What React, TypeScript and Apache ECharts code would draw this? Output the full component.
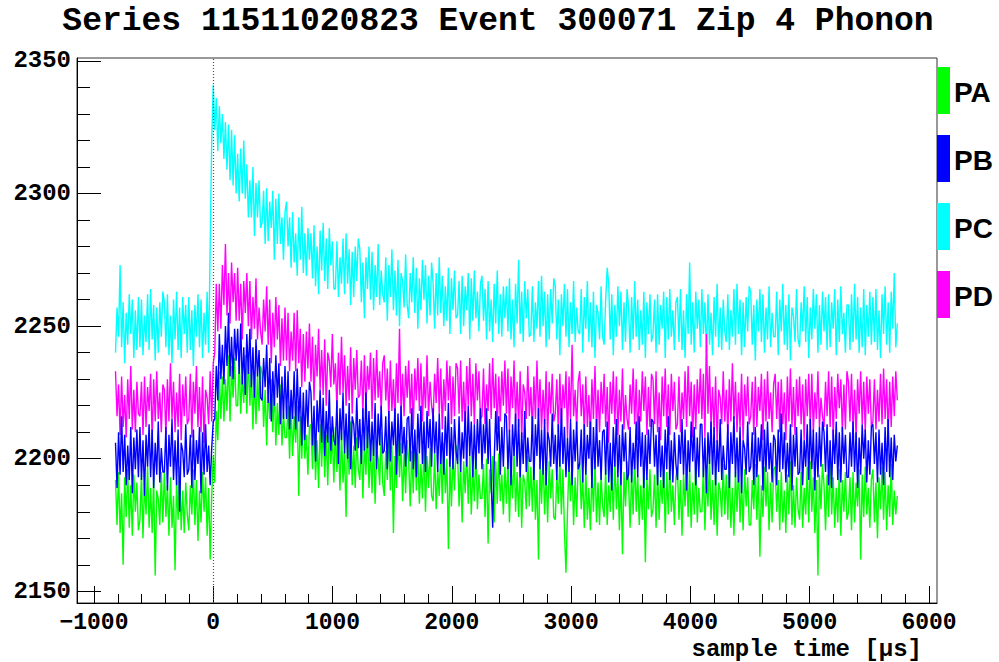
import React, { useEffect, useRef } from "react";
import * as echarts from "echarts";

const TITLE = "Series 11511020823 Event 300071 Zip 4 Phonon";
const X_TITLE = "sample time [\u03bcs]";
const CHANNELS = ["PA", "PB", "PC", "PD"];
const COLORS: Record<string, string> = { PA: "#00ff00", PB: "#0000ff", PC: "#00ffff", PD: "#ff00ff" };

// sample timing of the stored trace points (µs)
const T0 = -819.2;
const DT = 12.8;

const X_MAJOR = [-1000, 0, 1000, 2000, 3000, 4000, 5000, 6000];
const Y_MAJOR = [2150, 2200, 2250, 2300, 2350];
const X_RANGE = [-1142, 6067];
const Y_RANGE = [2145.6, 2351.1];

const PA = [
  2192, 2175, 2195, 2172, 2187, 2160, 2193, 2178, 2196, 2174, 2190, 2171, 2194, 2180, 2191, 2173,
  2177, 2194, 2170, 2191, 2179, 2197, 2174, 2189, 2172, 2193, 2156, 2188, 2185, 2175, 2195, 2176,
  2195, 2178, 2190, 2171, 2193, 2174, 2186, 2158, 2192, 2177, 2197, 2173, 2188, 2172, 2191, 2179,
  2173, 2190, 2179, 2196, 2175, 2192, 2169, 2188, 2176, 2195, 2180, 2193, 2171, 2189, 2162, 2186,
  2201, 2191, 2218, 2207, 2233, 2215, 2231, 2214, 2230, 2218, 2239, 2214, 2235, 2223, 2238, 2220,
  2220, 2238, 2217, 2231, 2221, 2239, 2217, 2240, 2220, 2233, 2211, 2231, 2213, 2232, 2218, 2235,
  2232, 2212, 2226, 2205, 2227, 2215, 2230, 2210, 2227, 2205, 2221, 2209, 2228, 2205, 2217, 2208,
  2208, 2220, 2200, 2221, 2201, 2216, 2206, 2220, 2186, 2216, 2200, 2218, 2200, 2209, 2194, 2212,
  2213, 2196, 2216, 2192, 2207, 2189, 2213, 2197, 2215, 2193, 2209, 2190, 2212, 2198, 2209, 2191,
  2212, 2195, 2207, 2188, 2210, 2191, 2203, 2178, 2209, 2194, 2214, 2190, 2205, 2189, 2208, 2196,
  2192, 2209, 2185, 2206, 2194, 2212, 2189, 2204, 2187, 2208, 2183, 2203, 2200, 2190, 2210, 2191,
  2186, 2203, 2192, 2209, 2188, 2205, 2172, 2201, 2189, 2208, 2193, 2206, 2184, 2202, 2187, 2207,
  2199, 2182, 2203, 2187, 2209, 2188, 2202, 2183, 2198, 2185, 2205, 2180, 2201, 2189, 2204, 2186,
  2184, 2202, 2181, 2196, 2186, 2204, 2183, 2206, 2187, 2200, 2166, 2199, 2182, 2201, 2188, 2205,
  2202, 2182, 2197, 2176, 2199, 2187, 2203, 2183, 2201, 2179, 2196, 2184, 2204, 2181, 2194, 2185,
  2185, 2198, 2178, 2200, 2168, 2196, 2187, 2201, 2176, 2199, 2183, 2202, 2184, 2194, 2179, 2197,
  2183, 2200, 2176, 2197, 2185, 2203, 2180, 2195, 2178, 2199, 2174, 2194, 2191, 2181, 2201, 2182,
  2197, 2180, 2200, 2177, 2192, 2162, 2198, 2183, 2201, 2179, 2195, 2176, 2199, 2185, 2196, 2178,
  2177, 2194, 2183, 2200, 2179, 2196, 2173, 2157, 2180, 2199, 2184, 2197, 2175, 2193, 2178, 2198,
  2198, 2181, 2193, 2174, 2196, 2177, 2189, 2173, 2195, 2180, 2200, 2176, 2191, 2175, 2194, 2182,
  2178, 2196, 2175, 2190, 2180, 2198, 2177, 2200, 2181, 2194, 2173, 2193, 2164, 2195, 2182, 2199,
  2191, 2174, 2195, 2179, 2201, 2180, 2194, 2175, 2190, 2177, 2197, 2161, 2193, 2181, 2196, 2178,
  2181, 2194, 2174, 2196, 2177, 2192, 2183, 2197, 2172, 2195, 2179, 2198, 2180, 2190, 2175, 2193,
  2197, 2177, 2192, 2171, 2194, 2182, 2198, 2178, 2196, 2174, 2191, 2179, 2199, 2176, 2189, 2180,
  2180, 2197, 2173, 2194, 2182, 2200, 2177, 2192, 2175, 2196, 2171, 2191, 2188, 2178, 2198, 2179,
  2194, 2177, 2197, 2174, 2189, 2171, 2195, 2180, 2198, 2176, 2192, 2173, 2196, 2182, 2193, 2175,
  2175, 2192, 2181, 2198, 2177, 2194, 2163, 2190, 2178, 2197, 2182, 2195, 2173, 2191, 2176, 2196,
  2197, 2180, 2192, 2173, 2195, 2176, 2188, 2172, 2194, 2179, 2199, 2175, 2190, 2174, 2193, 2181,
  2177, 2195, 2174, 2189, 2179, 2197, 2176, 2199, 2180, 2193, 2172, 2192, 2156, 2194, 2181, 2198,
  2190, 2173, 2194, 2178, 2200, 2179, 2193, 2174, 2189, 2176, 2196, 2171, 2192, 2180, 2195, 2177,
  2180, 2193, 2173, 2195, 2176, 2191, 2182, 2196, 2162, 2194, 2178, 2197, 2179, 2189, 2174, 2192,
  2196, 2176, 2191, 2170, 2193, 2181, 2197, 2177, 2195, 2173, 2190, 2178, 2198, 2175, 2188, 2179,
  2186,
];

const PB = [
  2206, 2189, 2210, 2194, 2216, 2195, 2209, 2190, 2205, 2192, 2212, 2187, 2208, 2196, 2211, 2193,
  2212, 2192, 2207, 2186, 2209, 2197, 2213, 2193, 2211, 2189, 2206, 2194, 2214, 2191, 2204, 2195,
  2195, 2212, 2188, 2209, 2197, 2215, 2192, 2207, 2190, 2211, 2180, 2206, 2203, 2193, 2213, 2194,
  2196, 2209, 2189, 2211, 2192, 2207, 2198, 2212, 2187, 2210, 2194, 2213, 2195, 2205, 2190, 2204,
  2214, 2215, 2235, 2222, 2247, 2230, 2243, 2228, 2250, 2235, 2255, 2231, 2246, 2230, 2249, 2237,
  2249, 2232, 2251, 2228, 2242, 2224, 2247, 2232, 2249, 2227, 2242, 2223, 2245, 2231, 2241, 2223,
  2222, 2238, 2227, 2243, 2221, 2238, 2214, 2233, 2220, 2239, 2223, 2236, 2213, 2231, 2215, 2235,
  2215, 2233, 2211, 2226, 2215, 2233, 2211, 2234, 2214, 2227, 2205, 2225, 2207, 2226, 2212, 2229,
  2225, 2205, 2220, 2199, 2222, 2210, 2226, 2206, 2223, 2201, 2218, 2206, 2226, 2203, 2216, 2207,
  2205, 2222, 2198, 2219, 2207, 2225, 2202, 2217, 2200, 2221, 2196, 2216, 2213, 2203, 2223, 2204,
  2215, 2198, 2219, 2203, 2225, 2204, 2218, 2199, 2214, 2201, 2221, 2196, 2217, 2205, 2220, 2202,
  2203, 2216, 2196, 2218, 2199, 2214, 2205, 2219, 2194, 2217, 2201, 2220, 2202, 2212, 2197, 2215,
  2216, 2199, 2219, 2196, 2211, 2193, 2217, 2202, 2220, 2198, 2214, 2195, 2218, 2204, 2215, 2197,
  2219, 2202, 2214, 2195, 2217, 2198, 2210, 2194, 2216, 2201, 2221, 2197, 2212, 2196, 2215, 2203,
  2198, 2216, 2195, 2210, 2200, 2218, 2197, 2220, 2201, 2214, 2193, 2213, 2196, 2215, 2202, 2219,
  2196, 2213, 2202, 2219, 2198, 2215, 2192, 2174, 2199, 2218, 2203, 2216, 2194, 2212, 2197, 2217,
  2216, 2196, 2211, 2190, 2213, 2201, 2217, 2197, 2215, 2193, 2210, 2198, 2218, 2195, 2208, 2199,
  2199, 2216, 2192, 2213, 2201, 2219, 2196, 2211, 2194, 2215, 2190, 2210, 2207, 2197, 2217, 2198,
  2209, 2192, 2213, 2197, 2219, 2198, 2212, 2193, 2208, 2195, 2215, 2190, 2211, 2199, 2214, 2196,
  2198, 2211, 2191, 2213, 2194, 2209, 2200, 2214, 2189, 2212, 2196, 2215, 2197, 2207, 2192, 2210,
  2211, 2194, 2214, 2191, 2206, 2188, 2212, 2197, 2215, 2193, 2209, 2190, 2213, 2199, 2210, 2192,
  2194, 2212, 2191, 2206, 2196, 2214, 2193, 2216, 2197, 2210, 2189, 2209, 2192, 2211, 2198, 2215,
  2214, 2197, 2209, 2190, 2212, 2193, 2205, 2189, 2211, 2196, 2216, 2192, 2207, 2191, 2210, 2198,
  2192, 2209, 2198, 2215, 2194, 2211, 2188, 2207, 2195, 2214, 2199, 2212, 2190, 2208, 2193, 2213,
  2213, 2193, 2208, 2187, 2210, 2198, 2214, 2194, 2212, 2190, 2207, 2195, 2215, 2192, 2205, 2196,
  2196, 2213, 2189, 2210, 2198, 2216, 2193, 2208, 2191, 2212, 2187, 2207, 2204, 2194, 2214, 2195,
  2197, 2210, 2190, 2212, 2193, 2208, 2199, 2213, 2188, 2211, 2195, 2214, 2196, 2206, 2191, 2209,
  2207, 2190, 2211, 2195, 2217, 2196, 2210, 2191, 2206, 2193, 2213, 2188, 2209, 2197, 2212, 2194,
  2195, 2211, 2190, 2207, 2197, 2213, 2192, 2215, 2196, 2211, 2188, 2210, 2193, 2212, 2197, 2214,
  2210, 2195, 2213, 2190, 2207, 2189, 2211, 2198, 2214, 2192, 2210, 2191, 2212, 2198, 2209, 2193,
  2193, 2210, 2197, 2214, 2195, 2210, 2189, 2208, 2194, 2213, 2200, 2211, 2191, 2207, 2194, 2212,
  2213, 2198, 2210, 2191, 2211, 2194, 2206, 2190, 2212, 2195, 2215, 2193, 2208, 2192, 2209, 2199,
  2205,
];

const PC = [
  2240, 2257, 2246, 2273, 2242, 2259, 2236, 2255, 2243, 2262, 2247, 2260, 2238, 2256, 2241, 2261,
  2242, 2260, 2239, 2254, 2244, 2262, 2241, 2264, 2245, 2258, 2237, 2257, 2240, 2259, 2246, 2263,
  2259, 2242, 2262, 2239, 2254, 2236, 2260, 2245, 2263, 2241, 2257, 2238, 2261, 2247, 2258, 2240,
  2261, 2241, 2256, 2235, 2258, 2246, 2262, 2242, 2260, 2238, 2255, 2243, 2263, 2240, 2280, 2320,
  2341, 2324, 2336, 2316, 2333, 2319, 2330, 2313, 2327, 2309, 2326, 2305, 2324, 2303, 2322, 2300,
  2315, 2297, 2317, 2300, 2320, 2298, 2311, 2291, 2305, 2291, 2310, 2284, 2304, 2291, 2305, 2287,
  2289, 2301, 2281, 2302, 2282, 2297, 2287, 2301, 2275, 2298, 2281, 2300, 2281, 2291, 2275, 2293,
  2297, 2280, 2291, 2272, 2293, 2274, 2285, 2269, 2291, 2275, 2295, 2270, 2285, 2269, 2287, 2275,
  2285, 2268, 2288, 2265, 2280, 2262, 2286, 2271, 2289, 2267, 2283, 2264, 2287, 2273, 2282, 2264,
  2264, 2282, 2261, 2276, 2266, 2283, 2262, 2285, 2266, 2279, 2258, 2278, 2261, 2280, 2267, 2283,
  2279, 2259, 2274, 2253, 2276, 2264, 2280, 2260, 2278, 2256, 2273, 2261, 2281, 2258, 2271, 2262,
  2259, 2276, 2252, 2273, 2261, 2279, 2256, 2271, 2254, 2275, 2250, 2270, 2267, 2257, 2277, 2258,
  2253, 2270, 2259, 2276, 2255, 2272, 2249, 2268, 2256, 2275, 2260, 2273, 2251, 2269, 2254, 2274,
  2266, 2249, 2270, 2254, 2276, 2255, 2269, 2250, 2265, 2252, 2272, 2247, 2268, 2256, 2271, 2253,
  2254, 2267, 2247, 2269, 2250, 2265, 2256, 2270, 2245, 2268, 2252, 2271, 2253, 2263, 2248, 2266,
  2269, 2252, 2264, 2245, 2267, 2248, 2260, 2244, 2266, 2251, 2271, 2247, 2262, 2246, 2265, 2253,
  2265, 2248, 2268, 2245, 2260, 2242, 2266, 2251, 2275, 2247, 2263, 2244, 2267, 2253, 2264, 2246,
  2247, 2265, 2244, 2259, 2249, 2267, 2246, 2269, 2250, 2263, 2242, 2262, 2245, 2264, 2251, 2268,
  2265, 2245, 2260, 2239, 2262, 2250, 2266, 2246, 2264, 2242, 2259, 2247, 2267, 2244, 2257, 2248,
  2247, 2264, 2240, 2261, 2249, 2267, 2244, 2259, 2242, 2263, 2238, 2258, 2255, 2245, 2265, 2246,
  2243, 2260, 2272, 2266, 2245, 2262, 2239, 2258, 2246, 2265, 2250, 2263, 2241, 2259, 2244, 2264,
  2257, 2240, 2261, 2245, 2267, 2246, 2260, 2241, 2256, 2243, 2263, 2238, 2259, 2247, 2262, 2244,
  2247, 2260, 2240, 2262, 2243, 2258, 2249, 2263, 2238, 2261, 2245, 2264, 2246, 2256, 2241, 2259,
  2261, 2244, 2264, 2241, 2256, 2238, 2262, 2247, 2274, 2243, 2259, 2240, 2263, 2249, 2260, 2242,
  2264, 2247, 2259, 2240, 2262, 2243, 2255, 2239, 2261, 2246, 2266, 2242, 2257, 2241, 2260, 2248,
  2244, 2262, 2241, 2256, 2246, 2264, 2243, 2266, 2247, 2260, 2239, 2259, 2242, 2261, 2248, 2265,
  2263, 2243, 2258, 2237, 2260, 2248, 2264, 2244, 2262, 2240, 2257, 2245, 2265, 2242, 2255, 2246,
  2246, 2263, 2239, 2260, 2248, 2266, 2243, 2258, 2241, 2262, 2237, 2257, 2254, 2244, 2264, 2245,
  2242, 2259, 2248, 2265, 2244, 2261, 2238, 2257, 2245, 2264, 2249, 2262, 2240, 2258, 2243, 2263,
  2248, 2261, 2241, 2262, 2242, 2259, 2249, 2264, 2239, 2260, 2244, 2265, 2247, 2255, 2240, 2258,
  2258, 2241, 2262, 2244, 2266, 2245, 2261, 2240, 2257, 2242, 2264, 2239, 2258, 2246, 2263, 2243,
  2261, 2244, 2264, 2241, 2256, 2238, 2262, 2247, 2265, 2243, 2259, 2240, 2263, 2249, 2270, 2242,
  2251,
];

const PD = [
  2233, 2216, 2228, 2209, 2231, 2212, 2224, 2208, 2230, 2215, 2235, 2211, 2226, 2210, 2229, 2217,
  2216, 2229, 2209, 2231, 2212, 2227, 2218, 2232, 2207, 2230, 2214, 2233, 2215, 2225, 2210, 2228,
  2226, 2209, 2230, 2214, 2236, 2215, 2229, 2210, 2225, 2212, 2232, 2207, 2228, 2216, 2231, 2213,
  2215, 2232, 2208, 2229, 2217, 2235, 2212, 2227, 2210, 2231, 2206, 2226, 2223, 2213, 2233, 2214,
  2236, 2240, 2266, 2248, 2266, 2249, 2273, 2258, 2281, 2254, 2270, 2251, 2274, 2259, 2270, 2252,
  2272, 2252, 2266, 2245, 2267, 2255, 2270, 2250, 2267, 2245, 2261, 2249, 2268, 2245, 2257, 2248,
  2243, 2260, 2248, 2265, 2243, 2260, 2236, 2255, 2242, 2261, 2245, 2258, 2235, 2253, 2237, 2257,
  2237, 2255, 2233, 2248, 2237, 2255, 2233, 2256, 2236, 2249, 2227, 2247, 2229, 2248, 2234, 2251,
  2229, 2246, 2222, 2243, 2231, 2249, 2226, 2241, 2224, 2245, 2220, 2240, 2237, 2227, 2247, 2228,
  2236, 2219, 2240, 2224, 2246, 2225, 2239, 2220, 2235, 2222, 2242, 2217, 2238, 2226, 2241, 2223,
  2224, 2237, 2217, 2239, 2220, 2235, 2226, 2240, 2215, 2238, 2222, 2241, 2223, 2233, 2218, 2236,
  2239, 2222, 2234, 2215, 2237, 2218, 2230, 2214, 2236, 2221, 2249, 2217, 2232, 2216, 2235, 2223,
  2237, 2217, 2232, 2211, 2234, 2222, 2238, 2218, 2236, 2214, 2231, 2219, 2239, 2216, 2229, 2220,
  2215, 2232, 2221, 2238, 2217, 2234, 2211, 2230, 2218, 2237, 2222, 2235, 2213, 2231, 2216, 2236,
  2234, 2217, 2237, 2214, 2229, 2211, 2235, 2220, 2238, 2216, 2232, 2213, 2236, 2222, 2233, 2215,
  2216, 2234, 2213, 2228, 2218, 2236, 2215, 2238, 2219, 2232, 2211, 2231, 2214, 2233, 2220, 2237,
  2217, 2234, 2210, 2231, 2219, 2237, 2214, 2229, 2212, 2233, 2208, 2228, 2225, 2215, 2235, 2216,
  2227, 2210, 2231, 2215, 2237, 2216, 2230, 2211, 2226, 2213, 2233, 2208, 2229, 2217, 2232, 2214,
  2217, 2230, 2210, 2232, 2213, 2228, 2219, 2233, 2208, 2231, 2215, 2243, 2216, 2226, 2211, 2229,
  2233, 2216, 2228, 2209, 2231, 2212, 2224, 2208, 2230, 2215, 2235, 2211, 2226, 2210, 2229, 2217,
  2232, 2212, 2227, 2206, 2229, 2217, 2233, 2213, 2231, 2209, 2226, 2214, 2234, 2211, 2224, 2215,
  2211, 2228, 2217, 2234, 2213, 2230, 2207, 2226, 2214, 2233, 2218, 2231, 2209, 2227, 2212, 2232,
  2230, 2213, 2233, 2210, 2225, 2207, 2231, 2216, 2234, 2212, 2228, 2209, 2232, 2218, 2229, 2211,
  2213, 2231, 2210, 2225, 2215, 2233, 2212, 2235, 2216, 2229, 2208, 2228, 2211, 2230, 2217, 2234,
  2215, 2232, 2208, 2247, 2217, 2235, 2212, 2227, 2210, 2231, 2206, 2226, 2223, 2213, 2233, 2214,
  2226, 2209, 2230, 2214, 2236, 2215, 2229, 2210, 2225, 2212, 2232, 2207, 2228, 2216, 2231, 2213,
  2216, 2229, 2209, 2231, 2212, 2227, 2218, 2232, 2207, 2230, 2214, 2233, 2215, 2225, 2210, 2228,
  2232, 2215, 2229, 2210, 2230, 2213, 2225, 2207, 2231, 2214, 2234, 2212, 2227, 2209, 2230, 2216,
  2231, 2213, 2228, 2207, 2230, 2216, 2232, 2212, 2232, 2210, 2225, 2215, 2233, 2212, 2223, 2216,
  2212, 2229, 2216, 2233, 2212, 2231, 2208, 2227, 2215, 2232, 2219, 2230, 2210, 2228, 2211, 2233,
  2229, 2214, 2232, 2211, 2226, 2208, 2230, 2217, 2233, 2213, 2229, 2210, 2231, 2217, 2230, 2212,
  2214, 2230, 2211, 2226, 2214, 2232, 2213, 2234, 2215, 2230, 2209, 2229, 2212, 2231, 2216, 2233,
  2222,
];

const TRACES: Record<string, number[]> = { PA, PB, PC, PD };
// drawing order (last on top)
const DRAW_ORDER = ["PC", "PD", "PA", "PB"];

const MONO = "'Liberation Mono', 'DejaVu Sans Mono', monospace";
const SANS = "'Liberation Sans', Arial, sans-serif";

function range(a: number, b: number, step: number): number[] {
  const out: number[] = [];
  for (let v = a; v <= b + 1e-9; v += step) out.push(Math.round(v));
  return out;
}

export default function App() {
  const ref = useRef<HTMLDivElement>(null);
  useEffect(() => {
    if (!ref.current) return;
    const chart = echarts.init(ref.current, null, { renderer: "svg" });
    const gridLeft = 77, gridTop = 58, gridW = 860, gridH = 545;

    const series: any[] = DRAW_ORDER.map((name, k) => ({
      name,
      type: "line",
      xAxisIndex: 0,
      yAxisIndex: 0,
      data: TRACES[name].map((v, i) => [T0 + i * DT, v]),
      showSymbol: false,
      symbol: "none",
      lineStyle: { color: COLORS[name], width: 1.4 },
      itemStyle: { color: COLORS[name] },
      silent: true,
      z: 2 + k,
    }));
    series.push({
      type: "line",
      data: [],
      xAxisIndex: 0,
      yAxisIndex: 0,
      z: 10,
      markLine: {
        silent: true,
        symbol: "none",
        label: { show: false },
        lineStyle: { color: "#555", type: [1, 2], width: 1.2 },
        data: [{ xAxis: 0 }],
      },
    });

    const legendGraphics: any[] = [];
    const legendTops = [67, 135, 203, 271];
    CHANNELS.forEach((name, k) => {
      legendGraphics.push({
        type: "rect",
        shape: { x: 937, y: legendTops[k], width: 13, height: 47 },
        style: { fill: COLORS[name] },
      });
      legendGraphics.push({
        type: "text",
        x: 954,
        y: legendTops[k] + 25,
        style: {
          text: name,
          font: `bold 28px ${SANS}`,
          fill: "#000",
          textVerticalAlign: "middle",
          verticalAlign: "middle",
        },
      });
    });

    const tickStyle = { color: "#000", width: 1 };
    chart.setOption({
      animation: false,
      backgroundColor: "#fff",
      grid: {
        left: gridLeft,
        top: gridTop,
        width: gridW,
        height: gridH,
        show: true,
        borderColor: "#333",
        borderWidth: 1,
        backgroundColor: "transparent",
        containLabel: false,
        outerBoundsMode: "none",
      },
      xAxis: [
        {
          type: "value",
          min: X_RANGE[0],
          max: X_RANGE[1],
          position: "bottom",
          axisLine: { show: true, onZero: false, lineStyle: { color: "#000", width: 1 } },
          axisTick: { show: true, inside: true, length: 17, customValues: X_MAJOR, lineStyle: tickStyle },
          axisLabel: {
            show: true,
            customValues: X_MAJOR,
            margin: 8,
            fontFamily: MONO,
            fontWeight: "bold",
            fontSize: 23,
            color: "#000",
            formatter: (v: number) => String(v).replace("-", "\u2212"),
          },
          splitLine: { show: false },
        },
        {
          type: "value",
          min: X_RANGE[0],
          max: X_RANGE[1],
          position: "bottom",
          axisLine: { show: false, onZero: false },
          axisTick: {
            show: true,
            inside: true,
            length: 9,
            customValues: range(-1000, 6000, 200),
            lineStyle: tickStyle,
          },
          axisLabel: { show: false },
          splitLine: { show: false },
        },
      ],
      yAxis: [
        {
          type: "value",
          min: Y_RANGE[0],
          max: Y_RANGE[1],
          position: "left",
          axisLine: { show: true, onZero: false, lineStyle: { color: "#000", width: 1 } },
          axisTick: { show: true, inside: true, length: 24, customValues: Y_MAJOR, lineStyle: tickStyle },
          axisLabel: {
            show: true,
            customValues: Y_MAJOR,
            margin: 6,
            fontFamily: MONO,
            fontWeight: "bold",
            fontSize: 24,
            color: "#000",
            formatter: (v: number) => String(v),
          },
          splitLine: { show: false },
        },
        {
          type: "value",
          min: Y_RANGE[0],
          max: Y_RANGE[1],
          position: "left",
          offset: 0,
          axisLine: { show: false, onZero: false },
          axisTick: {
            show: true,
            inside: true,
            length: 13,
            customValues: range(2150, 2350, 10),
            lineStyle: tickStyle,
          },
          axisLabel: { show: false },
          splitLine: { show: false },
        },
      ],
      series,
      graphic: [
        {
          type: "text",
          x: 498,
          y: 21,
          style: {
            text: TITLE,
            font: `bold 33px ${MONO}`,
            fill: "#000",
            textAlign: "center",
            align: "center",
            textVerticalAlign: "middle",
            verticalAlign: "middle",
          },
        },
        {
          type: "text",
          x: 922,
          y: 649,
          style: {
            text: X_TITLE,
            font: `bold 24px ${MONO}`,
            fill: "#000",
            textAlign: "right",
            align: "right",
            textVerticalAlign: "middle",
            verticalAlign: "middle",
          },
        },
        ...legendGraphics,
      ],
    });
    return () => chart.dispose();
  }, []);
  return (
    <div
      ref={ref}
      style={{ position: "absolute", left: 0, top: 0, width: 999, height: 662, background: "#fff" }}
    />
  );
}
